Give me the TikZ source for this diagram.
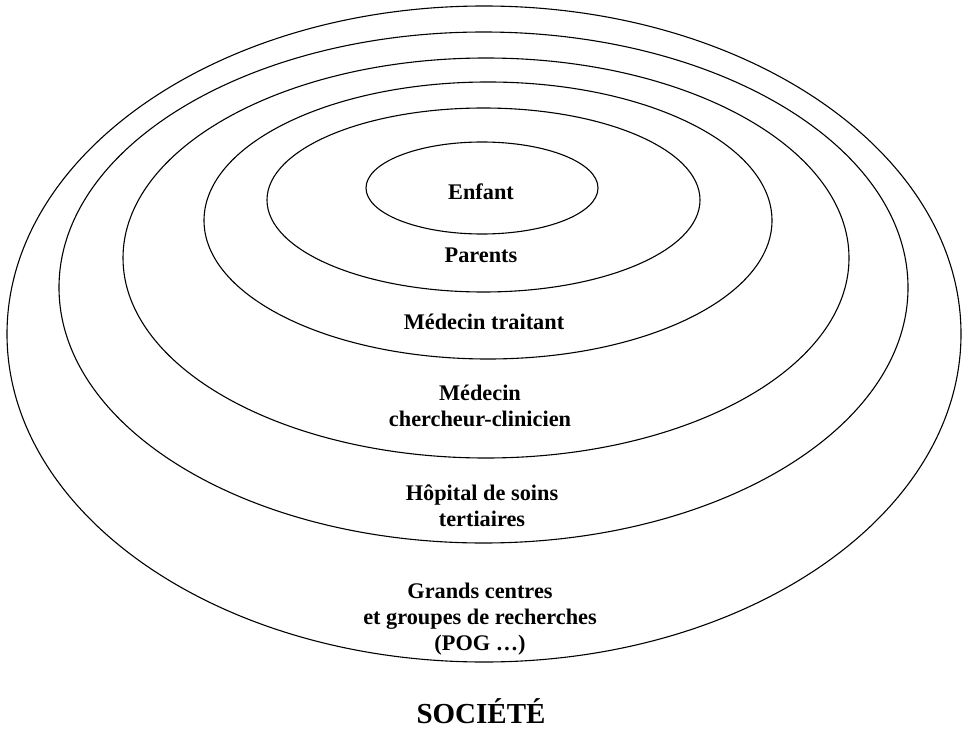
\documentclass[tikz,border=0pt]{standalone}
\usepackage{fontspec}
\setmainfont{Liberation Serif}
\begin{document}
\begin{tikzpicture}[x=1pt,y=-1pt,
  ring/.style={draw=black, line width=1.1pt},
  lbl/.style={font=\fontsize{22.3}{26}\selectfont\bfseries, align=center, inner sep=0pt},
  bigl/.style={font=\fontsize{29}{34}\selectfont\bfseries, inner sep=0pt}]
\useasboundingbox (0,0) rectangle (965,730);
% rings, outermost first
\draw[ring] (484,334) ellipse [x radius=477pt, y radius=328pt];
\draw[ring] (483.5,287.5) ellipse [x radius=424.5pt, y radius=255.5pt];
\draw[ring] (486,258) ellipse [x radius=363pt, y radius=200pt];
\draw[ring] (488,220.5) ellipse [x radius=284pt, y radius=138.5pt];
\draw[ring] (483.5,200) ellipse [x radius=216.5pt, y radius=92pt];
\draw[ring] (482,188) ellipse [x radius=116pt, y radius=46pt];
% labels
\node[lbl] (enfant) at (481,192) {Enfant};
\node[lbl] (parents) at (481,255) {Parents};
\node[lbl] (traitant) at (484,322) {Médecin traitant};
\node[lbl] (chercheur) at (480,406) {Médecin\\chercheur-clinicien};
\node[lbl] (hopital) at (482,506) {Hôpital de soins\\tertiaires};
\node[lbl] (grands) at (480,619) {Grands centres\\et groupes de recherches\\(POG …)};
\node[bigl] (societe) at (481,711) {SOCIÉTÉ};
\end{tikzpicture}
\end{document}
